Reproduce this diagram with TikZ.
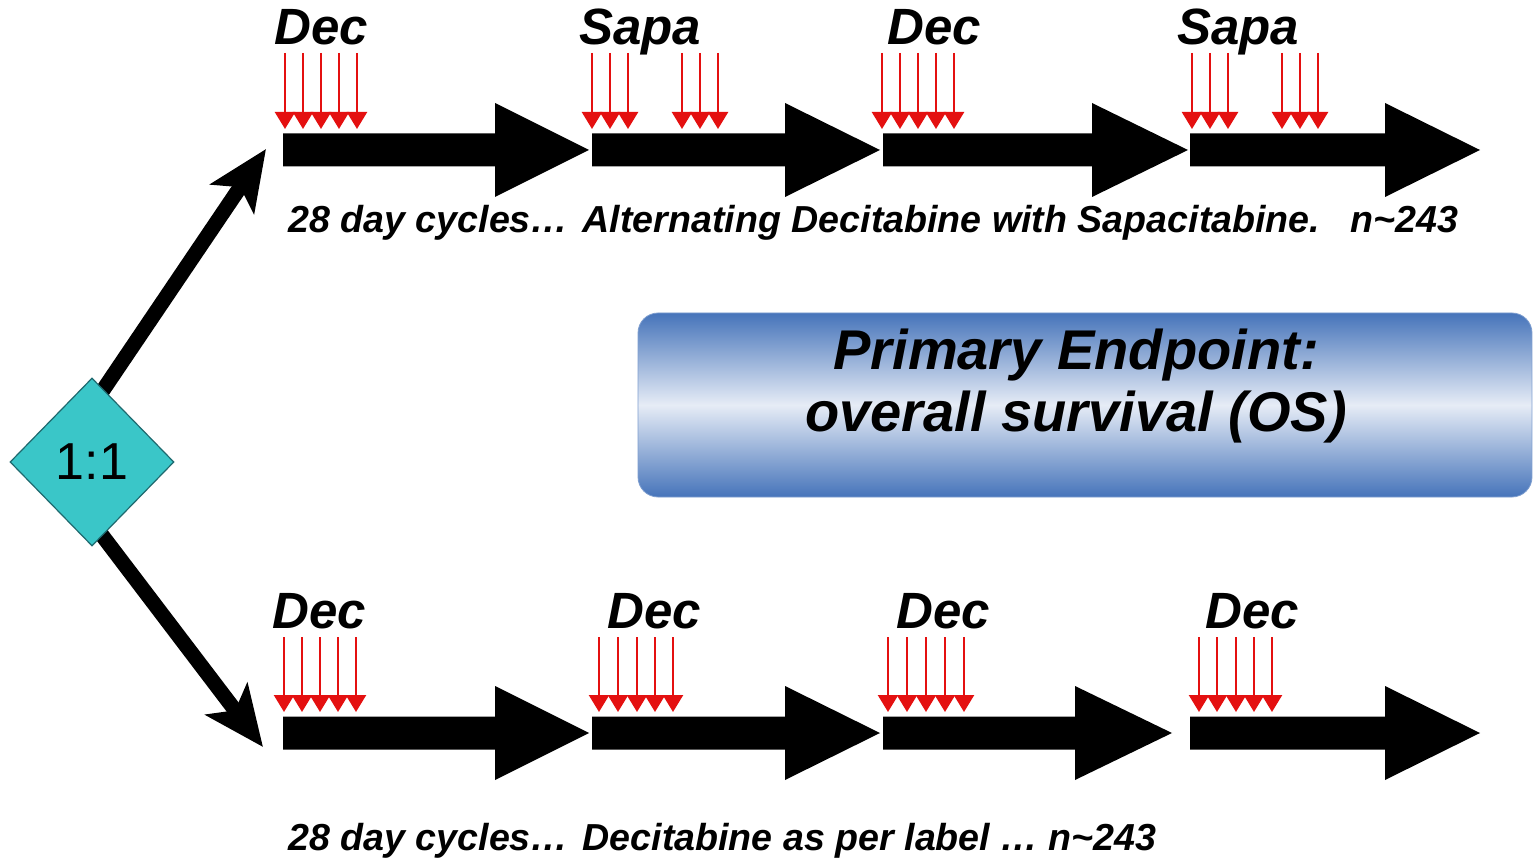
\documentclass[tikz,border=0pt]{standalone}
\usepackage{fontspec}
\setmainfont{Liberation Sans}
\usetikzlibrary{arrows.meta,shapes.geometric}

\definecolor{dosered}{RGB}{228,16,16}
\definecolor{tealfill}{RGB}{58,198,200}
\definecolor{tealedge}{RGB}{30,105,110}
\definecolor{boxdark}{RGB}{70,116,186}
\definecolor{boxlight}{RGB}{230,236,246}

% thick black phase arrow: start x, head base x, tip x, centre y
\newcommand{\phasearrow}[4]{%
  \fill[black] (#1,{#4-16.5}) -- (#2,{#4-16.5}) -- (#2,{#4-47}) -- (#3,#4)
    -- (#2,{#4+47}) -- (#2,{#4+16.5}) -- (#1,{#4+16.5}) -- cycle;}
% a group of daily dose arrows: x positions, start y, tip y
\newcommand{\doses}[3]{%
  \foreach \xx in {#1} \draw[dose] (\xx,#2) -- (\xx,#3);}

\begin{document}
\begin{tikzpicture}[x=0.5pt,y=-0.5pt,
  dose/.style={draw=dosered, line width=1.2pt, -{Triangle[width=10pt,length=8.5pt]}},
  druglabel/.style={font=\fontsize{25.5}{28}\selectfont\bfseries\itshape, anchor=base, inner sep=0pt},
  armtext/.style={font=\fontsize{18.8}{22}\selectfont\bfseries\itshape, anchor=base west, inner sep=0pt},
  boxtext/.style={font=\fontsize{28}{31}\selectfont\bfseries\itshape, anchor=base, inner sep=0pt},
  branch/.style={line width=7.5pt, -{Stealth[length=30pt,width=26pt,inset=7pt]}},
  ratio/.style={diamond, fill=tealfill, draw=tealedge, line width=0.6pt, inner sep=0pt,
    minimum width=82pt, minimum height=84pt, font=\fontsize{26}{30}\selectfont},
  endpoint/.style={rectangle, rounded corners=10pt, top color=boxdark, bottom color=boxdark,
    middle color=boxlight, draw=boxdark!70, line width=0.4pt, minimum width=447pt, minimum height=92pt}
]
\useasboundingbox (0,0) rectangle (1533,861);
\fill[white] (0,0) rectangle (1533,861);

% randomisation branches
\coordinate (upStart) at (95,402);
\coordinate (upTip) at (266,149);
\coordinate (lowStart) at (92,522);
\coordinate (lowTip) at (263,747);
\draw[branch] (upStart) -- (upTip);
\draw[branch] (lowStart) -- (lowTip);
\node[ratio] (rand) at (92,462) {1:1};

% upper arm: alternating decitabine / sapacitabine
\phasearrow{283}{495}{589}{150}
\phasearrow{592}{785}{880}{150}
\phasearrow{883}{1092}{1188}{150}
\phasearrow{1190}{1385}{1480}{150}
\doses{285,303,321,339,357}{53}{129}
\doses{592,610,628,682,700,718}{53}{129}
\doses{882,900,918,936,954}{53}{129}
\doses{1192,1210,1228,1282,1300,1318}{53}{129}
\node[druglabel] (uDec1) at (321,45) {Dec};
\node[druglabel] (uSapa1) at (640,45) {Sapa};
\node[druglabel] (uDec2) at (934,45) {Dec};
\node[druglabel] (uSapa2) at (1238,45) {Sapa};
\node[armtext] (uText) at (288,233)
  {28 day cycles…\hspace{0.38em}Alternating Decitabine with Sapacitabine.\hspace{0.8em}n\textasciitilde 243};

% lower arm: decitabine only
\phasearrow{283}{495}{589}{733}
\phasearrow{592}{785}{880}{733}
\phasearrow{883}{1075}{1172}{733}
\phasearrow{1190}{1385}{1480}{733}
\doses{284,302,320,338,356}{637}{712}
\doses{599,618,637,655,673}{637}{712}
\doses{888,907,926,945,964}{637}{712}
\doses{1199,1217,1236,1254,1272}{637}{712}
\node[druglabel] (lDec1) at (319,628) {Dec};
\node[druglabel] (lDec2) at (654,628) {Dec};
\node[druglabel] (lDec3) at (943,628) {Dec};
\node[druglabel] (lDec4) at (1252,628) {Dec};
\node[armtext] (lText) at (288,850)
  {28 day cycles…\hspace{0.38em}Decitabine as per label … n\textasciitilde 243};

% primary endpoint box
\node[endpoint] (ep) at (1085,405) {};
\node[boxtext] (ep1) at (1076,370) {Primary Endpoint:};
\node[boxtext] (ep2) at (1076,432) {overall survival (OS)};
\end{tikzpicture}
\end{document}
